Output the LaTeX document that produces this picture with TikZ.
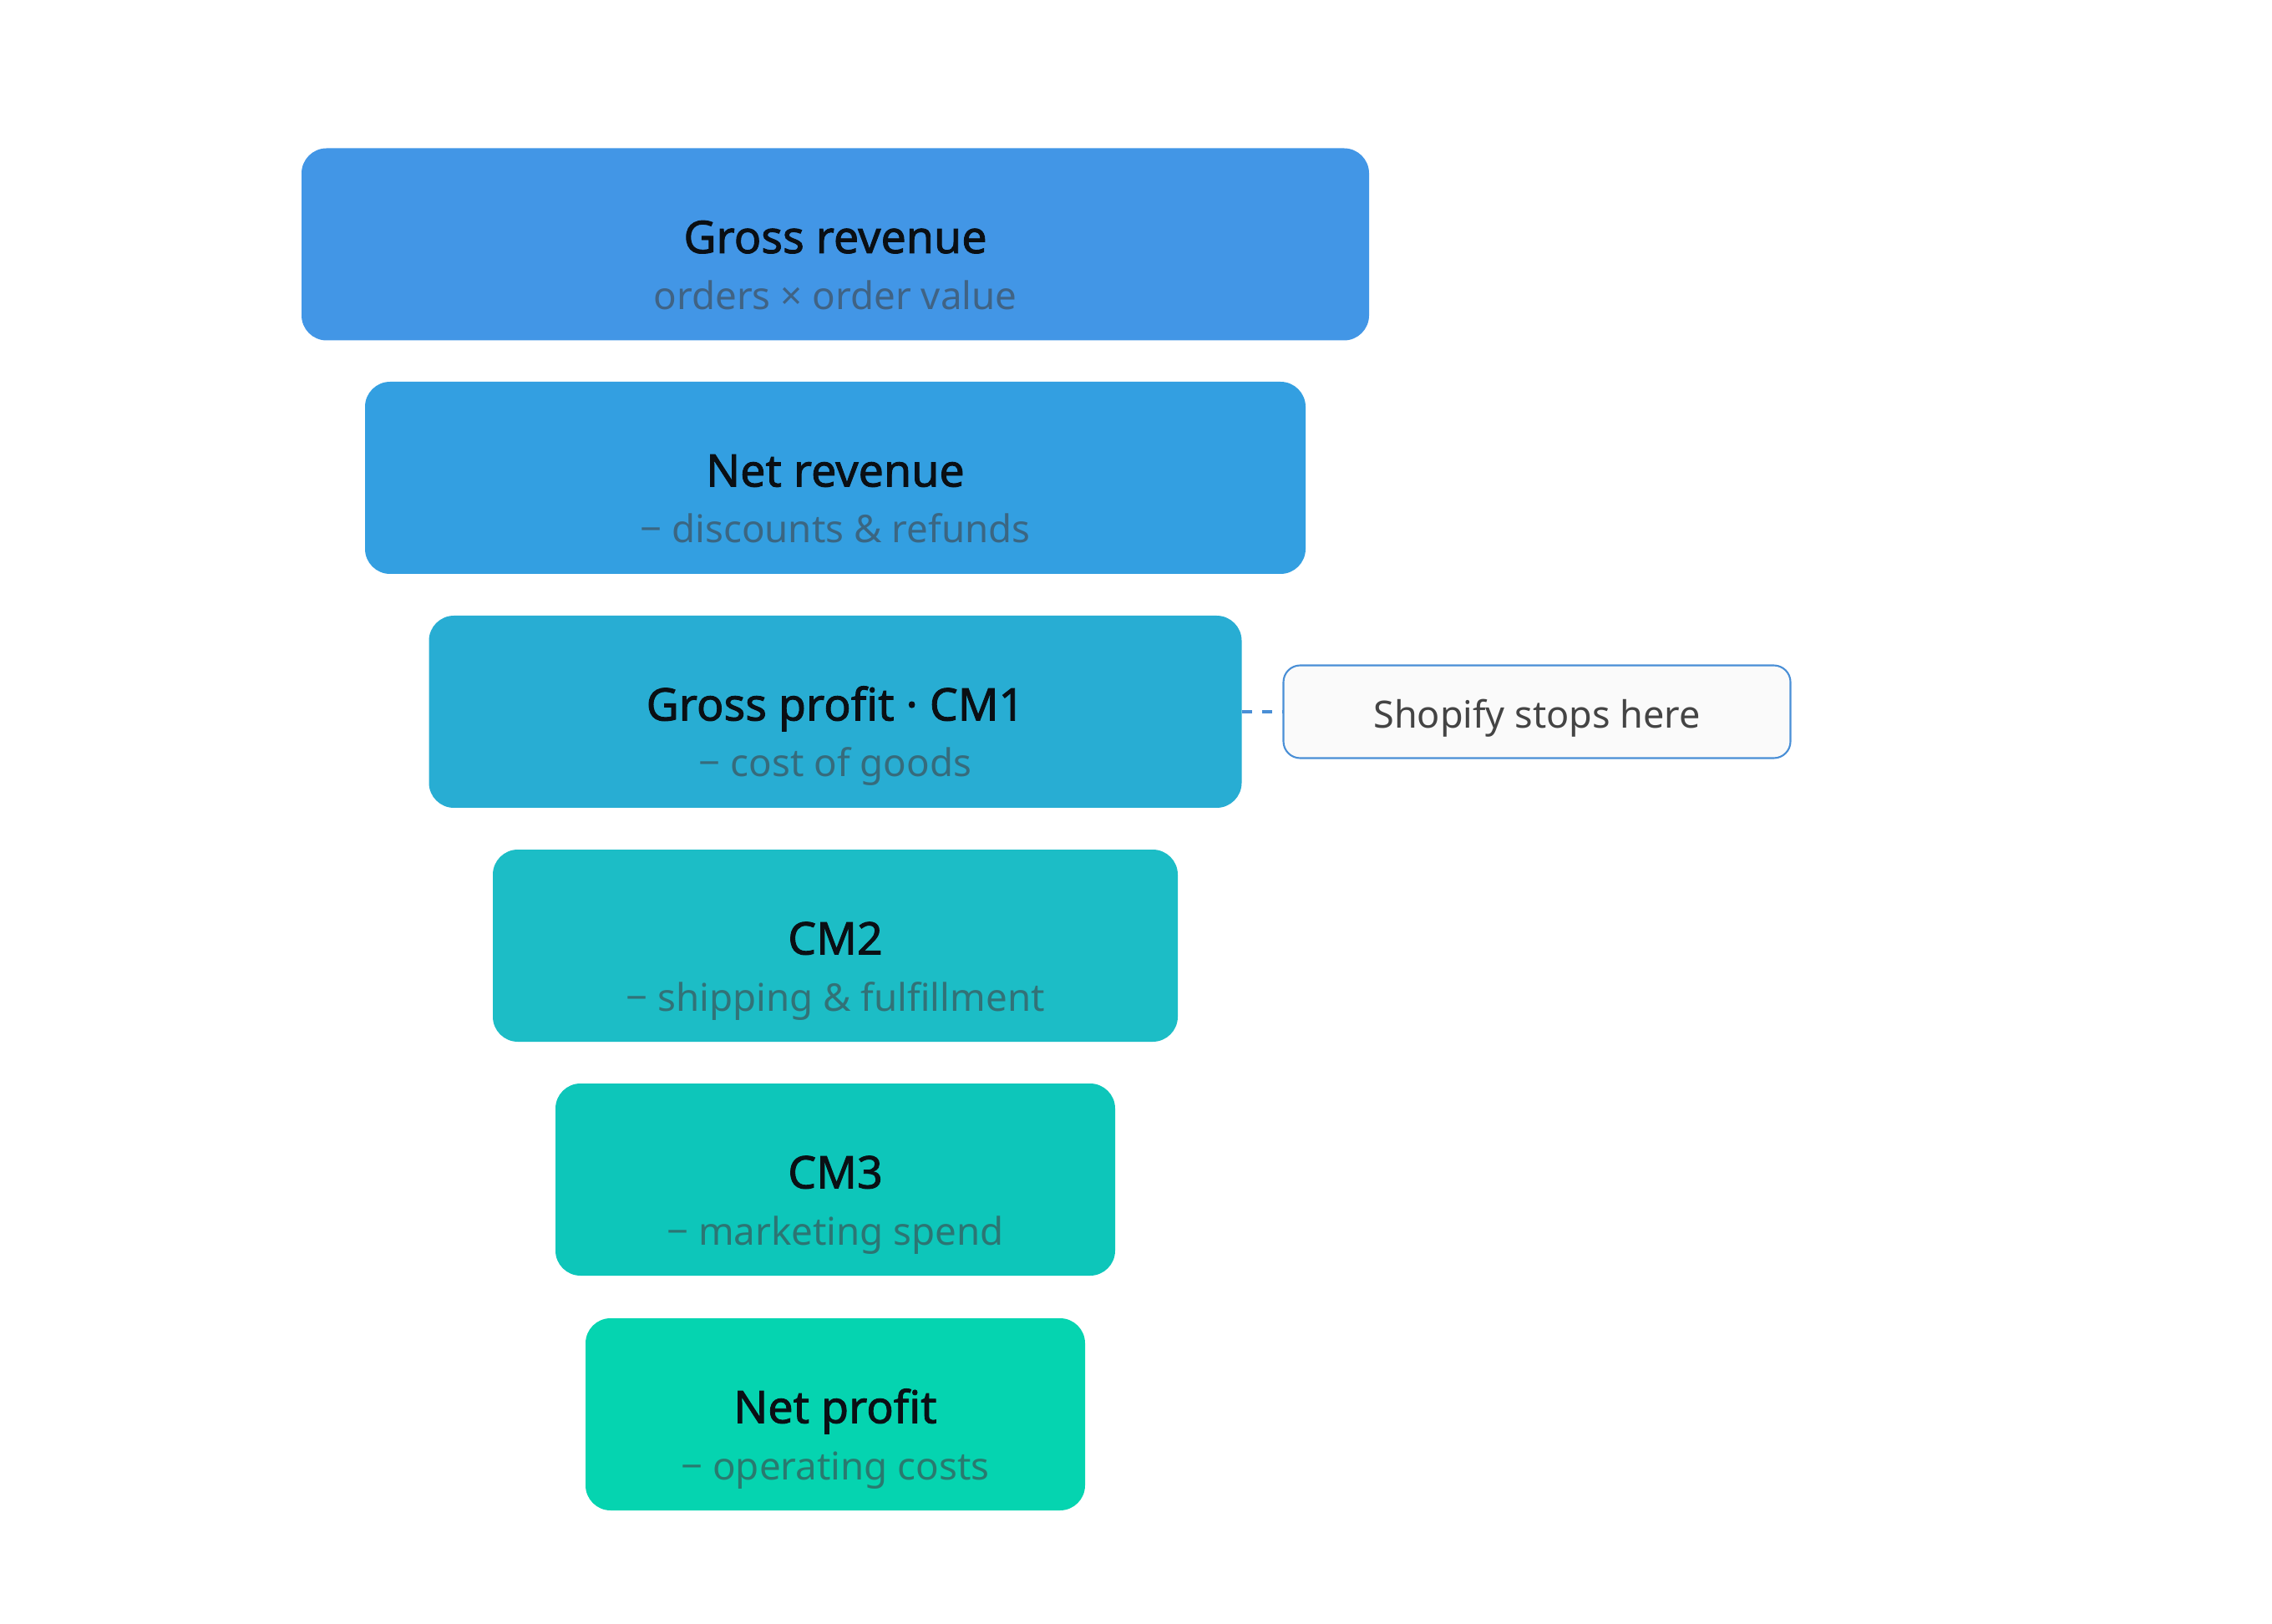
\documentclass[tikz,border=0pt]{standalone}
\usepackage{fontspec}
\setmainfont{Noto Sans}
\newfontfamily\ttlfont{Noto Sans}[FakeBold=1.6]
\definecolor{cA}{HTML}{4296E6}
\definecolor{cB}{HTML}{339FE1}
\definecolor{cC}{HTML}{28ADD3}
\definecolor{cD}{HTML}{1CBDC6}
\definecolor{cE}{HTML}{0DC6BA}
\definecolor{cF}{HTML}{05D4B0}
\definecolor{ttl}{HTML}{0A0F14}
\definecolor{sub}{HTML}{404448}
\definecolor{cborder}{HTML}{4A8FD6}
\definecolor{cfill}{HTML}{FAFAFA}
\definecolor{ctext}{HTML}{444444}
\tikzset{
  tier/.style={rounded corners=0.3cm, minimum height=2.3cm, inner sep=0pt, draw=none},
  ttlstyle/.style={anchor=base, inner sep=0pt, text=ttl, font=\ttlfont\fontsize{15.3}{18}\selectfont},
  substyle/.style={anchor=base, inner sep=0pt, text=sub, text opacity=0.62, font=\fontsize{13.0}{16}\selectfont},
  callout/.style={rounded corners=0.2cm, draw=cborder, line width=0.6pt, fill=cfill, minimum width=6.07cm, minimum height=1.11cm, inner sep=0pt},
  calltext/.style={anchor=base, inner sep=0pt, text=ctext, font=\fontsize{12.8}{16}\selectfont},
  link/.style={draw=cborder, line width=1.05pt, dash pattern=on 3.4pt off 3.4pt}
}
\begin{document}
\begin{tikzpicture}
\useasboundingbox (0,0) rectangle (27.2,-19.44);
\node[tier, fill=cA, minimum width=12.78cm] (b1) at (10.0,-2.925) {};
\node[tier, fill=cB, minimum width=11.26cm] (b2) at (10.0,-5.72) {};
\node[tier, fill=cC, minimum width=9.73cm] (b3) at (10.0,-8.52) {};
\node[tier, fill=cD, minimum width=8.20cm] (b4) at (10.0,-11.32) {};
\node[tier, fill=cE, minimum width=6.70cm] (b5) at (10.0,-14.12) {};
\node[tier, fill=cF, minimum width=5.98cm] (b6) at (10.0,-16.93) {};
\foreach \b/\t/\s in {b1/{Gross revenue}/{orders × order value},
                      b2/{Net revenue}/{− discounts \& refunds},
                      b3/{Gross profit · CM1}/{− cost of goods},
                      b4/{CM2}/{− shipping \& fulfillment},
                      b5/{CM3}/{− marketing spend},
                      b6/{Net profit}/{− operating costs}}{
  \node[ttlstyle] (\b t) at ([yshift=-0.105cm]\b.center) {\t};
  \node[substyle] (\b s) at ([yshift=-0.78cm]\b.center) {\s};
}
\node[callout] (note) at (18.40,-8.52) {};
\node[calltext] (notet) at ([yshift=-0.20cm]note.center) {Shopify stops here};
\draw[link] (b3.east) -- (note.west);
\end{tikzpicture}
\end{document}
